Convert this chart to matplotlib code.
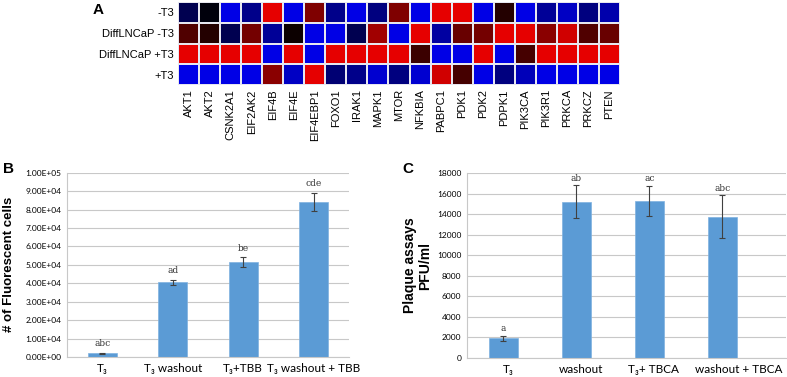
import numpy as np
import matplotlib
matplotlib.use("Agg")
import matplotlib.pyplot as plt
from matplotlib.colors import LinearSegmentedColormap
from matplotlib.transforms import ScaledTranslation

# heatmap data
genes = ["AKT1", "AKT2", "CSNK2A1", "EIF2AK2", "EIF4B", "EIF4E", "EIF4EBP1", "FOXO1",
         "IRAK1", "MAPK1", "MTOR", "NFKBIA", "PABPC1", "PDK1", "PDK2", "PDPK1",
         "PIK3CA", "PIK3R1", "PRKCA", "PRKCZ", "PTEN"]
conditions = ["-T3", "DiffLNCaP -T3", "DiffLNCaP +T3", "+T3"]
row_minus_t3 = [-0.35, -0.05, -1, -0.6, 1, -1, 0.55, -0.6, -1, -0.55, 0.55,
                -1, 1, 1, -1, 0.15, -1, -0.65, -0.85, -0.55, -0.75]
row_diff_minus = [0.35, 0.15, -0.35, 0.5, -0.65, 0.05, -1, -1, -0.35, 0.7, -1,
                  1, -0.7, 0.45, 0.5, 1, 1, 0.6, 0.9, 0.35, 0.45]
row_diff_plus = [1, 1, 1, 1, -1, 1, -1, 1, 1, 1, 1,
                 0.25, -1, -1, 1, -1, 0.3, 1, 1, 1, 1]
row_plus_t3 = [-1, -1, -1, -1, 0.6, -0.85, 1, -0.5, -0.6, -0.9, -0.55,
               -0.9, 0.9, 0.3, -1, -0.55, -0.8, -1, -1, -1, -1]

# panel B
b_labels = ["T\u2083", "T\u2083 washout", "T\u2083+TBB", "T\u2083 washout + TBB"]
b_values = [2000, 40500, 51500, 84000]
b_err = [200, 1500, 2500, 5000]
b_letters = ["abc", "ad", "be", "cde"]

# panel C
c_labels = ["T\u2083", "washout", "T\u2083+ TBCA", "washout + TBCA"]
c_values = [1900, 15200, 15300, 13750]
c_err = [250, 1600, 1450, 2100]
c_letters = ["a", "ab", "ac", "abc"]

bar_color = "#5b9bd5"
grid_color = "#c8c8c8"
tick_font = "Lato"
lab_font = "Liberation Sans"

fig = plt.figure(figsize=(7.87, 3.77), dpi=100)
W, H = 787, 377

def box(x0, y0, x1, y1):
    return [x0 / W, 1 - y1 / H, (x1 - x0) / W, (y1 - y0) / H]

# ---- A: heatmap
axa = fig.add_axes(box(178, 2, 620, 85))
vals = np.array([row_minus_t3, row_diff_minus, row_diff_plus, row_plus_t3])
cmap = LinearSegmentedColormap.from_list("br", ["#0000e6", "#000000", "#e60000"])
axa.pcolormesh(vals, cmap=cmap, vmin=-1, vmax=1, edgecolors="#e6e6f0", linewidth=1.2)
axa.set_xlim(0, len(genes))
axa.set_ylim(len(conditions), 0)
axa.set_xticks(np.arange(len(genes)) + 0.5)
axa.set_xticklabels(genes, rotation=90, fontsize=8, family=lab_font)
axa.set_yticks(np.arange(len(conditions)) + 0.5)
axa.set_yticklabels(conditions, fontsize=8, family=lab_font)
axa.tick_params(length=0, pad=3)
for s in axa.spines.values():
    s.set_visible(False)

def bar_panel(ax, labels, values, err, letters, ymax, step, fmt, off):
    x = np.arange(len(labels))
    ax.set_axisbelow(True)
    ax.yaxis.grid(True, color=grid_color, linewidth=0.8)
    ax.bar(x, values, width=0.41, color=bar_color, edgecolor="#7fb2e0", linewidth=0.5,
           yerr=err, capsize=2, error_kw=dict(ecolor="#404040", elinewidth=0.8, capthick=0.8))
    for xi, v, e, t in zip(x, values, err, letters):
        ax.text(xi, v + e + off, t, ha="center", va="bottom", fontsize=6.5, family="DejaVu Serif",
                color="#333333")
    ax.set_ylim(0, ymax)
    yt = np.arange(0, ymax + step / 2, step)
    ax.set_yticks(yt)
    ax.set_yticklabels([fmt(v) for v in yt], fontsize=6, family=tick_font)
    ax.set_xticks(x)
    ax.set_xticklabels(labels, fontsize=8.5, family=tick_font)
    ax.tick_params(length=0, pad=4)
    for s in ["top", "right"]:
        ax.spines[s].set_visible(False)
    for s in ["left", "bottom"]:
        ax.spines[s].set_color(grid_color)
        ax.spines[s].set_linewidth(0.8)

# ---- B
axb = fig.add_axes(box(67, 172.7, 349, 357))
bar_panel(axb, b_labels, b_values, b_err, b_letters, 100000, 10000,
          lambda v: f"{v:.2E}", 2500)
axb.set_xlim(-0.5, 3.5)
axb.set_ylabel("# of Fluorescent cells", fontsize=9.5, fontweight="bold", family=lab_font)
axb.yaxis.set_label_coords(-0.183, 0.5)

# ---- C
axc = fig.add_axes(box(467, 173, 786, 358))
bar_panel(axc, c_labels, c_values, c_err, c_letters, 18000, 2000,
          lambda v: f"{v:.0f}", 250)
axc.set_xlim(-0.5, 3.87)
axc.set_ylabel("Plaque assays\nPFU/ml", fontsize=10, fontweight="bold", family=lab_font,
               linespacing=1.1)
axc.yaxis.set_label_coords(-0.11, 0.5)
# labels sit a little right of the bars in the original
shifts = [5, 5, 4, 16]
for lab, dx in zip(axc.get_xticklabels(), shifts):
    lab.set_transform(lab.get_transform() + ScaledTranslation(dx / 100, 0, fig.dpi_scale_trans))

fig.text(93 / W, 1 - 10 / H, "A", fontsize=11, fontweight="bold", family=lab_font, va="center")
fig.text(3 / W, 1 - 169 / H, "B", fontsize=11, fontweight="bold", family=lab_font, va="center")
fig.text(402 / W, 1 - 169 / H, "C", fontsize=11, fontweight="bold", family=lab_font, va="center")

fig.savefig("out.png", dpi=100)
